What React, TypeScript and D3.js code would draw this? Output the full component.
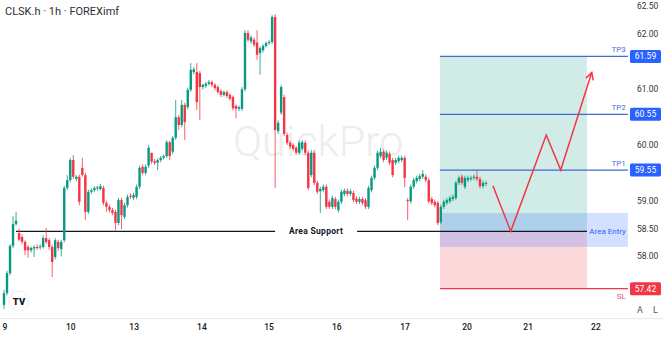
import React from "react";
import * as d3 from "d3";

const opens = [57.13,57.34,57.70,58.19,58.58,58.42,58.35,58.26,58.17,58.11,58.14,58.17,58.16,58.17,58.33,58.29,58.17,57.99,58.26,58.13,58.29,59.23,59.37,59.73,59.39,59.43,59.59,59.46,58.80,59.16,59.19,59.22,59.21,59.23,58.96,58.89,58.83,58.80,58.60,59.01,58.71,58.92,59.09,59.05,59.07,59.25,59.61,59.50,59.63,59.86,59.71,59.68,59.73,
59.77,59.80,60.05,59.88,60.13,60.50,60.36,60.72,60.68,60.99,61.31,61.31,61.29,61.04,61.06,61.10,61.13,61.08,61.04,60.97,60.90,60.95,60.90,60.86,60.70,60.65,60.65,61.00,62.01,61.86,61.89,61.84,61.65,61.70,61.78,61.83,61.85,62.30,60.25,60.58,60.86,60.18,60.04,60.00,59.95,59.86,59.93,60.04,59.86,59.46,59.86,59.32,59.17,59.19,59.25,58.98,58.89,59.03,58.83,58.98,59.12,59.18,59.12,59.14,59.04,58.98,59.03,59.01,58.89,59.19,59.41,59.59,59.80,59.88,59.77,59.84,59.73,59.68,59.71,59.73,59.77,59.01,58.99,59.25,59.35,59.39,59.43,59.43,59.37,59.03,58.98,58.96,58.62,58.89,58.96,58.99,59.03,59.05,59.32,59.43,59.25,59.37,59.39,59.41,59.43,59.39,59.26,59.30];
const highs = [57.40,57.74,58.22,58.72,58.80,58.50,58.40,58.29,58.20,58.18,58.20,58.22,58.22,58.38,58.51,58.33,58.21,58.33,58.30,58.30,59.27,59.46,59.77,59.82,59.46,59.47,59.77,59.50,59.20,59.22,59.26,59.27,59.30,59.27,59.00,58.93,58.87,58.84,59.05,59.05,58.96,59.11,59.13,59.14,59.29,59.63,59.65,59.65,60.00,59.86,59.75,59.76,59.80,
59.83,60.09,60.08,60.16,60.81,60.54,60.81,60.76,61.03,61.47,61.40,61.47,61.33,61.10,61.13,61.17,61.16,61.11,61.07,61.00,60.98,60.98,60.93,60.89,60.73,60.71,61.04,62.06,62.06,61.97,61.93,62.06,61.77,61.81,61.86,61.89,62.33,62.35,60.44,61.08,60.90,60.22,60.07,60.03,59.98,60.08,60.09,60.08,59.90,59.91,59.90,59.36,59.25,59.29,59.29,59.02,59.09,59.07,59.02,59.20,59.22,59.22,59.21,59.18,59.08,59.07,59.07,59.05,59.27,59.45,59.63,59.90,59.95,59.92,59.90,59.88,59.77,59.77,59.81,59.81,59.81,59.05,59.29,59.41,59.45,59.48,59.55,59.47,59.41,59.07,59.02,59.00,58.93,59.02,59.05,59.09,59.11,59.36,59.45,59.47,59.45,59.45,59.45,59.47,59.55,59.43,59.36,59.35];
const lows = [57.05,57.30,57.66,58.15,58.55,58.27,58.22,58.02,57.98,58.07,57.99,58.12,58.12,58.14,58.22,58.12,57.63,57.95,58.10,58.00,58.25,59.19,59.33,59.39,59.35,58.92,59.43,58.65,58.76,59.12,59.15,59.18,59.18,58.92,58.80,58.79,58.74,58.47,58.56,58.49,58.67,58.88,59.03,59.01,59.03,59.21,59.46,59.46,59.59,59.66,59.64,59.55,59.69,
59.74,59.77,59.73,59.84,60.09,60.27,60.32,60.09,60.64,60.95,61.27,60.63,60.45,61.00,61.02,61.07,61.04,60.98,60.92,60.86,60.87,60.84,60.80,60.62,60.48,60.61,60.61,60.96,61.85,61.82,61.76,61.53,61.26,61.66,61.75,61.80,61.81,59.23,60.20,60.54,60.16,60.00,59.93,59.89,59.82,59.82,59.89,59.82,59.19,59.42,59.28,59.12,58.78,59.15,58.85,58.85,58.85,58.85,58.79,58.94,59.08,59.08,59.08,58.97,58.94,58.94,58.92,58.85,58.85,59.15,59.37,59.55,59.76,59.69,59.73,59.64,59.42,59.64,59.67,59.69,59.24,58.65,58.95,59.21,59.31,59.35,59.39,59.33,58.95,58.92,58.88,58.56,58.58,58.85,58.92,58.95,58.99,59.01,59.28,59.28,59.21,59.33,59.35,59.37,59.35,59.22,59.22,59.26];
const closes = [57.34,57.70,58.19,58.58,58.64,58.30,58.26,58.11,58.11,58.15,58.17,58.15,58.18,58.33,58.26,58.17,57.90,58.29,58.15,58.26,59.23,59.37,59.73,59.43,59.43,58.98,59.46,58.80,59.16,59.19,59.23,59.24,59.26,58.96,58.89,58.83,58.78,58.60,59.01,58.74,58.92,59.07,59.07,59.10,59.25,59.59,59.50,59.61,59.95,59.70,59.68,59.73,59.77,
59.80,60.05,59.80,60.13,60.50,60.36,60.72,60.41,60.99,61.35,61.36,60.77,61.04,61.08,61.10,61.13,61.08,61.02,60.95,60.90,60.95,60.88,60.83,60.66,60.65,60.68,61.00,62.01,61.89,61.93,61.80,61.62,61.74,61.78,61.83,61.85,62.30,60.27,60.40,61.04,60.20,60.04,59.97,59.93,59.86,60.04,60.05,59.86,59.23,59.86,59.32,59.16,59.21,59.25,58.89,58.89,59.05,58.89,58.98,59.16,59.18,59.12,59.17,59.01,58.98,59.03,58.96,58.89,59.23,59.41,59.59,59.86,59.88,59.73,59.86,59.68,59.46,59.73,59.77,59.77,59.41,58.99,59.25,59.37,59.41,59.44,59.48,59.37,58.99,58.96,58.92,58.60,58.89,58.98,59.01,59.05,59.07,59.32,59.41,59.32,59.41,59.41,59.41,59.43,59.39,59.26,59.32,59.32];

const dayLabels = ["9","10","13","14","15","16","17","20","21","22"];
const dayBars = [0.3,22.2,43.2,65.7,88,110.5,133.1,153.7,174,196.5];
const priceTicks = [57.5,58,58.5,59,59.5,60,60.5,61,61.5,62,62.5];

const tpNames = ["TP1","TP2","TP3"];
const tpPrices = [59.55,60.55,61.59];
const slPrice = 57.42;
const entryPrice = 58.45;
const entryZone = [58.17,58.78];
const zoneBars = [144.7,193.5];
const lineEndBar = 207.1;
const supportStartBar = 4;
const supportLabelBar = 103.6;
const pathBars = [162.3,168.2,180,184.8,195.1];
const pathPrices = [59.27,58.45,60.18,59.55,61.3];

const UP = "#089981";
const DOWN = "#f23645";
const BLUE = "#2962ff";
const FONT = "Roboto, 'Noto Sans', sans-serif";

export default function App() {
  const W = 663, H = 337;
  const x = d3.scaleLinear().domain([0, closes.length - 1]).range([4, 486]);
  const y = d3.scaleLinear().domain([60, 62.5]).range([145, 5.75]);
  const bw = 2.4;
  const zx0 = x(zoneBars[0]), zx1 = x(zoneBars[1]), lx1 = x(lineEndBar);
  const line = d3.line<number>().x((_, i) => x(pathBars[i])).y((p) => y(p));
  const pts = pathBars.map((b, i) => [x(b), y(pathPrices[i])]);
  const n = pts.length;
  const ang = Math.atan2(pts[n - 1][1] - pts[n - 2][1], pts[n - 1][0] - pts[n - 2][0]);
  const ah = 8;
  const tip = pts[n - 1];
  const a1 = [tip[0] - ah * Math.cos(ang - 0.5), tip[1] - ah * Math.sin(ang - 0.5)];
  const a2 = [tip[0] - ah * Math.cos(ang + 0.5), tip[1] - ah * Math.sin(ang + 0.5)];
  const sx = x(supportLabelBar);
  const boxed = [...tpPrices, slPrice];
  const visibleTicks = priceTicks.filter((p) => boxed.every((b) => Math.abs(y(p) - y(b)) > 12));

  return (
    <svg width={W} height={H} style={{ position: "absolute", left: 0, top: 0, background: "#fff" }} fontFamily={FONT}>
      <rect x={0} y={0} width={W} height={H} fill="#fff" />
      {/* watermark */}
      <text x={233} y={156} fontSize={43} fontWeight={300} fill="#ededed">QuickPro</text>

      {/* zones */}
      <rect x={zx0} y={y(tpPrices[2])} width={zx1 - zx0} height={y(entryPrice) - y(tpPrices[2])} fill={UP} fillOpacity={0.19} />
      <rect x={zx0} y={y(entryPrice)} width={zx1 - zx0} height={y(slPrice) - y(entryPrice)} fill={DOWN} fillOpacity={0.19} />
      <rect x={zx0} y={y(entryZone[1])} width={lx1 - zx0} height={y(entryZone[0]) - y(entryZone[1])} fill={BLUE} fillOpacity={0.2} />

      {/* support line */}
      <line x1={x(supportStartBar)} x2={zx1} y1={y(entryPrice)} y2={y(entryPrice)} stroke="#131722" strokeWidth={1.2} />
      <rect x={sx - 41} y={y(entryPrice) - 5} width={82} height={10} fill="#fff" />
      <text x={sx} y={y(entryPrice) + 3} fontSize={8.5} fontWeight={700} textAnchor="middle" fill="#131722" letterSpacing={0.3}>Area Support</text>

      {/* candles */}
      {closes.map((c, i) => {
        const o = opens[i];
        const col = c >= o ? UP : DOWN;
        const top = y(Math.max(o, c));
        const bot = y(Math.min(o, c));
        return (
          <g key={i}>
            <line x1={x(i)} x2={x(i)} y1={y(highs[i])} y2={y(lows[i])} stroke={col} strokeWidth={0.8} />
            <rect x={x(i) - bw / 2} y={top} width={bw} height={Math.max(1, bot - top)} fill={col} />
          </g>
        );
      })}

      {/* TP lines */}
      {tpPrices.map((p, i) => (
        <g key={tpNames[i]}>
          <line x1={zx0} x2={lx1} y1={y(p)} y2={y(p)} stroke="#3f6ad8" strokeWidth={1.3} />
          <text x={lx1 - 2} y={y(p) - 4} fontSize={8} textAnchor="end" fill="#4a72d8">{tpNames[i]}</text>
        </g>
      ))}
      <line x1={zx0} x2={lx1} y1={y(slPrice)} y2={y(slPrice)} stroke={DOWN} strokeWidth={1.3} />
      <text x={lx1 - 2} y={y(slPrice) + 10} fontSize={8} textAnchor="end" fill="#e0508a">SL</text>
      <text x={lx1 - 2} y={y(entryPrice) + 3} fontSize={8} textAnchor="end" fill={BLUE}>Area Entry</text>

      {/* path arrow */}
      <path d={line(pathPrices) || ""} fill="none" stroke={DOWN} strokeWidth={1.5} strokeLinejoin="miter" />
      <path d={`M${a1[0]},${a1[1]}L${tip[0]},${tip[1]}L${a2[0]},${a2[1]}`} fill="none" stroke={DOWN} strokeWidth={1.5} />

      {/* price axis */}
      {visibleTicks.map((p) => (
        <text key={p} x={637} y={y(p) + 3} fontSize={8.5} fill="#333">{p.toFixed(2)}</text>
      ))}
      {tpPrices.map((p, i) => (
        <g key={"b" + i}>
          <rect x={630} y={y(p) - 6.5} width={31} height={13} rx={1.5} fill={BLUE} />
          <text x={645.5} y={y(p) + 3} fontSize={8.5} textAnchor="middle" fill="#fff">{p.toFixed(2)}</text>
        </g>
      ))}
      <rect x={630} y={y(slPrice) - 6.5} width={31} height={13} rx={1.5} fill={DOWN} />
      <text x={645.5} y={y(slPrice) + 3} fontSize={8.5} textAnchor="middle" fill="#fff">{slPrice.toFixed(2)}</text>
      <text x={637} y={313} fontSize={9} fill="#555">A</text>
      <text x={653} y={313} fontSize={9} fill="#555">L</text>

      {/* time axis */}
      <line x1={0} x2={W} y1={318.5} y2={318.5} stroke="#e6e8ee" />
      {dayLabels.map((d, i) => (
        <text key={d} x={x(dayBars[i])} y={330} fontSize={8.5} fontWeight={500} textAnchor="middle" fill="#131722">{d}</text>
      ))}

      {/* logo */}
      <circle cx={19} cy={301} r={10} fill="#fff" stroke="#eee" />
      <text x={19} y={304.5} fontSize={9.5} fontWeight={900} textAnchor="middle" fill="#131722">TV</text>

      {/* title */}
      <text x={5} y={15} fontSize={11} fill="#2a2e39">CLSK.h · 1h · FOREXimf</text>
    </svg>
  );
}
